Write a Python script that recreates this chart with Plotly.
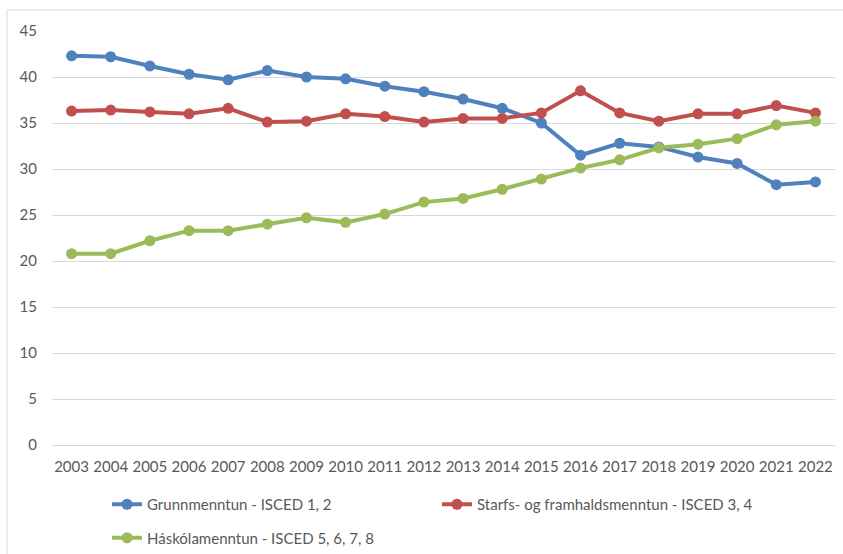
import plotly.graph_objects as go

years = [str(y) for y in range(2003, 2023)]
grunn = [42.3, 42.2, 41.2, 40.3, 39.7, 40.7, 40.0, 39.8, 39.0, 38.4,
         37.6, 36.6, 35.0, 31.5, 32.8, 32.4, 31.3, 30.6, 28.3, 28.6]
starfs = [36.3, 36.4, 36.2, 36.0, 36.6, 35.1, 35.2, 36.0, 35.7, 35.1,
          35.5, 35.5, 36.1, 38.5, 36.1, 35.2, 36.0, 36.0, 36.9, 36.1]
haskola = [20.8, 20.8, 22.2, 23.3, 23.3, 24.0, 24.7, 24.2, 25.1, 26.4,
           26.8, 27.8, 28.9, 30.1, 31.0, 32.3, 32.7, 33.3, 34.8, 35.2]
names = ["Grunnmenntun - ISCED 1, 2",
         "Starfs- og framhaldsmenntun - ISCED 3, 4",
         "Háskólamenntun - ISCED 5, 6, 7, 8"]
colors = ["#4F81BD", "#C0504D", "#9BBB59"]
y_ticks = list(range(0, 50, 5))

FONT = "Lato, Calibri, sans-serif"
TXT = "#595959"
FS = 15

fig = go.Figure()
series = [grunn, starfs, haskola]
legends = ["legend", "legend2", "legend"]
for i, (vals, nm, col, lg) in enumerate(zip(series, names, colors, legends)):
    fig.add_trace(go.Scatter(
        x=years, y=vals, name=nm, mode="lines+markers",
        line=dict(color=col, width=4),
        marker=dict(color=col, size=11),
        cliponaxis=False, legend=lg, legendgroup=f"g{i}",
    ))

W, H = 843, 554
L, R, T, B = 52, 8, 31, 109
pw, ph = W - L - R, H - T - B

def px_x(x):
    return (x - L) / pw

def px_y(y):
    return (H - B - y) / ph

fig.update_layout(
    width=W, height=H,
    margin=dict(l=L, r=R, t=T, b=B, autoexpand=False),
    paper_bgcolor="white", plot_bgcolor="white",
    font=dict(family=FONT, size=FS, color=TXT),
    showlegend=True,
    legend=dict(x=px_x(107), y=px_y(488), xanchor="left", yanchor="top",
                orientation="v", tracegroupgap=11, traceorder="grouped",
                font=dict(family=FONT, size=FS, color=TXT),
                bgcolor="rgba(0,0,0,0)", itemwidth=30),
    legend2=dict(x=px_x(437), y=px_y(488), xanchor="left", yanchor="top",
                 orientation="v",
                 font=dict(family=FONT, size=FS, color=TXT),
                 bgcolor="rgba(0,0,0,0)", itemwidth=30),
    xaxis=dict(type="category", range=[-0.5, 19.5], showgrid=False,
               showline=True, linecolor="#D9D9D9", linewidth=1,
               ticks="", tickfont=dict(family=FONT, size=FS, color=TXT),
               ticklabelstandoff=8, fixedrange=True, automargin=False),
    yaxis=dict(range=[0, 45], tickvals=y_ticks, showgrid=True,
               gridcolor="#D9D9D9", gridwidth=1, zeroline=False,
               showline=False, ticks="",
               tickfont=dict(family=FONT, size=FS, color=TXT),
               ticklabelstandoff=14, fixedrange=True, automargin=False),
    shapes=[
        dict(type="line", xref="paper", yref="paper",
             x0=px_x(7), x1=px_x(843), y0=px_y(10), y1=px_y(10),
             line=dict(color="#D9D9D9", width=1)),
        dict(type="line", xref="paper", yref="paper",
             x0=px_x(7), x1=px_x(7), y0=px_y(10), y1=px_y(554),
             line=dict(color="#D9D9D9", width=1)),
    ],
)

fig.write_html(
    "out.html",
    config={"displayModeBar": False},
    post_script="document.body.style.margin='0';document.body.style.padding='0';",
)
